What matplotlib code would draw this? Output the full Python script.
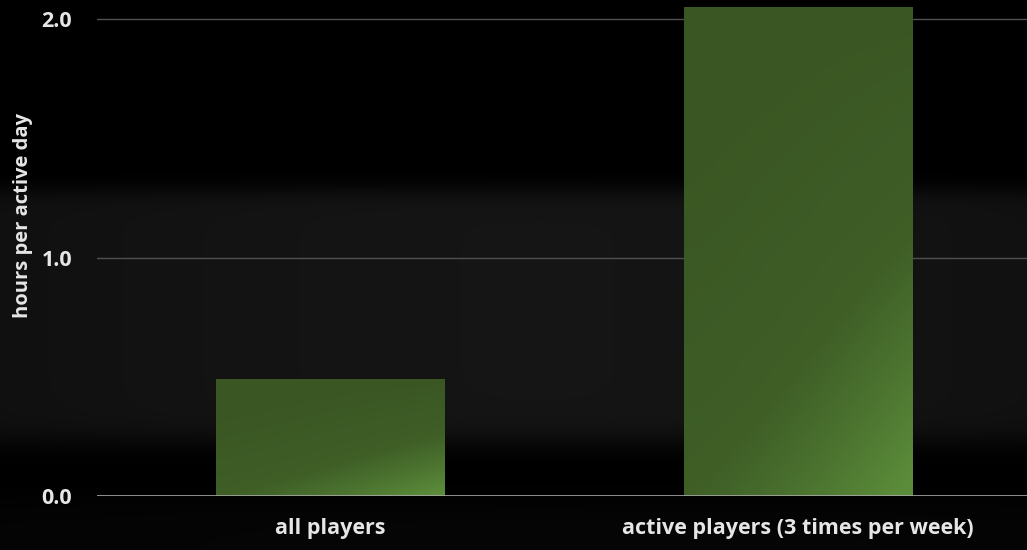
"""
Bar chart: hours per active day, all players vs active players.
Dark slide style with a hazy grey band behind and gradient green bars.
"""

import numpy as np
import matplotlib
matplotlib.use('Agg')
import matplotlib.pyplot as plt
from matplotlib.colors import LinearSegmentedColormap

# ── Data ──────────────────────────────────────────────────────────────────────
categories = ['all players', 'active players (3 times per week)']
hours      = [0.49, 2.05]
yticks     = [0.0, 1.0, 2.0]

TEXT  = '#e6e6e6'
GRID  = '#505050'
BASE  = '#a8a8a8'

plt.rcParams['font.family'] = ['Open Sans', 'DejaVu Sans']

fig = plt.figure(figsize=(10.27, 5.5), dpi=100, facecolor='black')

# ── Background haze ───────────────────────────────────────────────────────────
bg = fig.add_axes([0, 0, 1, 1], zorder=-1)
rows = np.arange(550)
prof = np.zeros(550)
prof += 0.075 * (1 / (1 + np.exp(-(rows - 190) / 6)))
prof *= 1 / (1 + np.exp((rows - 440) / 8))
prof += 0.02 * (1 / (1 + np.exp(-(rows - 500) / 10)))
cols = np.linspace(0, 1, 1027)
img = prof[:, None] * (0.85 + 0.25 * np.sin(cols * 3.0)[None, :])
bg.imshow(img, cmap='gray', vmin=0, vmax=1, aspect='auto', interpolation='bilinear')
bg.axis('off')

# ── Main axes ─────────────────────────────────────────────────────────────────
ax = fig.add_axes([97 / 1027, 54 / 550, 1 - 97 / 1027, 1 - 54 / 550])
ax.set_facecolor('none')
x = np.arange(len(categories))
bars = ax.bar(x, hours, width=0.49, color='#3d5a25', zorder=3)

green = LinearSegmentedColormap.from_list('g', ['#3a5623', '#3f5f27', '#5b8c3a'])
for b in bars:
    x0, w, h = b.get_x(), b.get_width(), b.get_height()
    gy, gx = np.mgrid[0:1:200j, 0:1:200j]
    # gy: 0 at top of image; brighter toward the bottom-right
    t = np.clip(0.5 * gy ** 1.6 + 0.55 * gx ** 1.3 * gy ** 0.6, 0, 1)
    im = ax.imshow(t, cmap=green, vmin=0, vmax=1, extent=(x0, x0 + w, 0, h),
                   aspect='auto', interpolation='bilinear', zorder=4)
    im.set_clip_path(b)

ax.set_xlim(-0.5, 1.49)
ax.set_ylim(0, 2.08)
ax.set_yticks(yticks)
ax.set_yticklabels([f'{v:.1f}' for v in yticks], fontweight='bold')
ax.set_xticks(x)
ax.set_xticklabels(categories, fontweight='bold')
ax.tick_params(axis='both', length=0, colors=TEXT, labelsize=15.5)
ax.tick_params(axis='y', pad=18)
ax.tick_params(axis='x', pad=16)
for s in ax.spines.values():
    s.set_visible(False)
for v in yticks[1:]:
    ax.axhline(v, color=GRID, linewidth=1, zorder=1)
ax.axhline(0, color=BASE, linewidth=1.2, zorder=5)

ax.set_ylabel('hours per active day', color=TEXT, fontsize=14.5,
              fontweight='bold')
ax.yaxis.set_label_coords(-0.069, 0.565)

plt.savefig('out.png', dpi=100, facecolor='black')
plt.close()
